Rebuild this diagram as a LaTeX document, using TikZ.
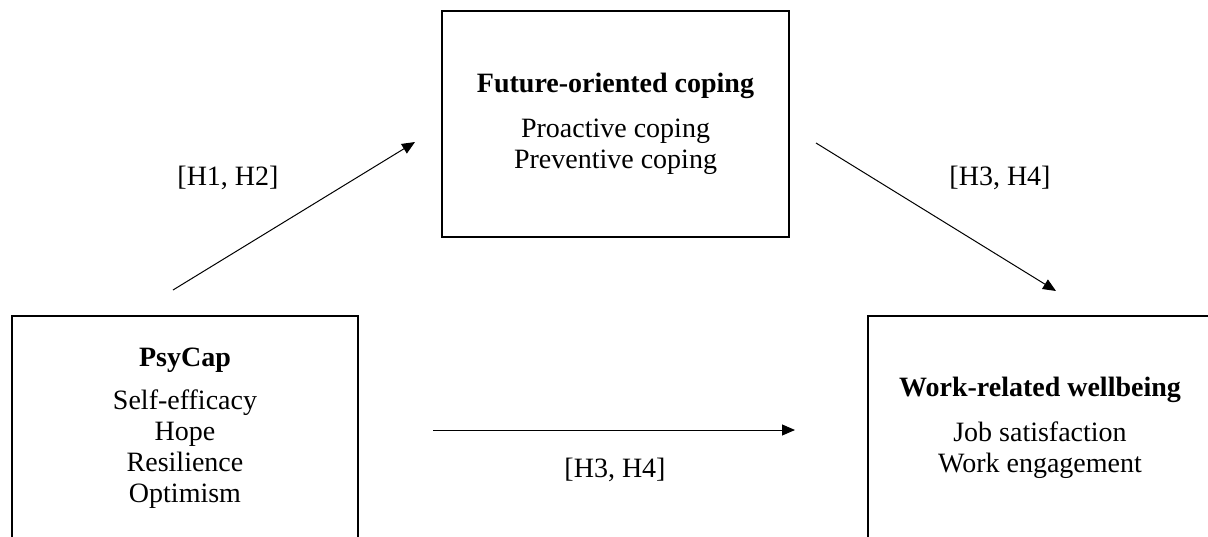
\documentclass[tikz,border=0pt]{standalone}
\usepackage{fontspec}
\setmainfont{Liberation Serif}
\usetikzlibrary{arrows.meta}
\tikzset{
	box/.style={draw,line width=1.8pt,align=center,inner sep=0pt},
	lbl/.style={inner sep=0pt},
	path arrow/.style={line width=1pt,-{Triangle[length=13pt,width=11pt]}}
}
\begin{document}
\begin{tikzpicture}[x=1pt,y=-1pt,font=\fontsize{28}{31}\selectfont]
	\useasboundingbox (0,0) rectangle (1208,536);
	\node[box,minimum width=347pt,minimum height=226pt] (coping) at (615.5,124) {\textbf{Future-oriented coping}\\[14pt]Proactive coping\\Preventive coping};
	\node[box,minimum width=346pt,minimum height=225pt] (psycap) at (185,428.5) {\textbf{PsyCap}\\[12pt]Self-efficacy\\Hope\\Resilience\\Optimism};
	\node[box,minimum width=344pt,minimum height=223pt] (wellbeing) at (1040,427.5) {\textbf{Work-related wellbeing}\\[14pt]Job satisfaction\\Work engagement};
	\coordinate (a1s) at (173,290);
	\coordinate (a1e) at (415,142);
	\coordinate (a2s) at (816,143);
	\coordinate (a2e) at (1056,291);
	\coordinate (a3s) at (433,430);
	\coordinate (a3e) at (795,430);
	\draw[path arrow] (a1s) -- (a1e);
	\draw[path arrow] (a2s) -- (a2e);
	\draw[path arrow] (a3s) -- (a3e);
	\node[lbl] (h12) at (228,178) {[H1, H2]};
	\node[lbl] (h34top) at (1000,178) {[H3, H4]};
	\node[lbl] (h34low) at (615,470) {[H3, H4]};
\end{tikzpicture}
\end{document}
